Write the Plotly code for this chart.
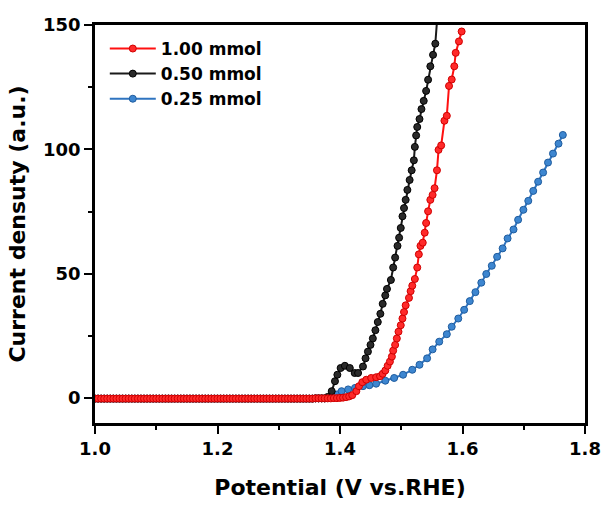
import plotly.graph_objects as go

# Flat (baseline) region shared by all curves
flat_x = [1.000, 1.005, 1.010, 1.015, 1.020, 1.025, 1.030, 1.035, 1.040, 1.045,
          1.050, 1.055, 1.060, 1.065, 1.070, 1.075, 1.080, 1.085, 1.090, 1.095,
          1.100, 1.105, 1.110, 1.115, 1.120, 1.125, 1.130, 1.135, 1.140, 1.145,
          1.150, 1.155, 1.160, 1.165, 1.170, 1.175, 1.180, 1.185, 1.190, 1.195,
          1.200, 1.205, 1.210, 1.215, 1.220, 1.225, 1.230, 1.235, 1.240, 1.245,
          1.250, 1.255, 1.260, 1.265, 1.270, 1.275, 1.280, 1.285, 1.290, 1.295,
          1.300, 1.305, 1.310, 1.315, 1.320, 1.325, 1.330, 1.335, 1.340, 1.345,
          1.350, 1.355, 1.360, 1.365, 1.370, 1.375]
flat_y = [-0.2, -0.2, -0.2, -0.2, -0.2, -0.2, -0.2, -0.2, -0.2, -0.2,
          -0.2, -0.2, -0.2, -0.2, -0.2, -0.2, -0.2, -0.2, -0.2, -0.2,
          -0.2, -0.2, -0.2, -0.2, -0.2, -0.2, -0.2, -0.2, -0.2, -0.2,
          -0.2, -0.2, -0.2, -0.2, -0.2, -0.2, -0.2, -0.2, -0.2, -0.2,
          -0.2, -0.2, -0.2, -0.2, -0.2, -0.2, -0.2, -0.2, -0.2, -0.2,
          -0.2, -0.2, -0.2, -0.2, -0.2, -0.2, -0.2, -0.2, -0.2, -0.2,
          -0.2, -0.2, -0.2, -0.2, -0.2, -0.2, -0.2, -0.2, -0.2, -0.2,
          -0.2, -0.2, -0.1, -0.1, -0.1, -0.1]

red_x_rise = [1.38, 1.385, 1.39, 1.395, 1.40, 1.405, 1.41, 1.415, 1.42, 1.4267,
              1.431, 1.4364, 1.4428, 1.4509, 1.459, 1.4654, 1.4697, 1.474, 1.4778, 1.4815,
              1.4847, 1.4868, 1.49, 1.4928, 1.4955, 1.4992, 1.502, 1.5045, 1.5072, 1.5126,
              1.5153, 1.518, 1.5222, 1.5261, 1.5287, 1.5314, 1.5351, 1.5383, 1.5406, 1.5438,
              1.5475, 1.5512, 1.5544, 1.5583, 1.5609, 1.5652, 1.5705, 1.5744, 1.578, 1.5824,
              1.5866, 1.5889, 1.5942, 1.5986]
red_y_rise = [-0.1, -0.1, 0.0, 0.0, 0.1, 0.2, 0.4, 0.7, 1.2, 2.8,
              4.8, 6.4, 7.4, 8.1, 8.4, 8.8, 9.8, 11.1, 13.0, 14.7,
              16.7, 19.1, 21.4, 24.0, 26.7, 29.3, 32.0, 34.6, 37.3, 40.3,
              43.0, 45.2, 47.9, 52.5, 57.8, 61.2, 62.5, 66.5, 70.4, 75.1,
              79.7, 81.7, 84.4, 91.6, 99.8, 101.6, 111.5, 113.5, 125.5, 128.1,
              133.4, 138.8, 143.4, 147.4]

black_x_rise = [1.38, 1.3865, 1.3918, 1.3957, 1.401, 1.408, 1.416, 1.424, 1.4295, 1.4375,
                1.4417, 1.4456, 1.4498, 1.4536, 1.4578, 1.4617, 1.4659, 1.4697, 1.4739, 1.4767,
                1.4831, 1.4868, 1.490, 1.4939, 1.4965, 1.4992, 1.502, 1.5045, 1.5072, 1.51,
                1.5137, 1.517, 1.5206, 1.5222, 1.5243, 1.5261, 1.5298, 1.533, 1.5367, 1.5406,
                1.5438, 1.5475, 1.5519, 1.5556, 1.5585]
black_y_rise = [0.5, 2.8, 6.8, 9.4, 12.1, 13.0, 12.1, 10.1, 10.1, 12.7,
                16.0, 18.7, 21.4, 24.0, 27.3, 30.6, 33.9, 37.9, 41.3, 43.9,
                47.5, 52.5, 56.5, 61.2, 64.5, 68.4, 73.1, 76.4, 79.7, 83.7,
                87.7, 91.6, 95.6, 101.0, 105.6, 109.0, 112.2, 116.2, 119.5, 123.5,
                128.0, 133.4, 138.0, 142.5, 152.0]

blue_x_rise = [1.38, 1.39, 1.3955, 1.4026, 1.4133, 1.4245, 1.4375, 1.448, 1.459, 1.474,
               1.4884, 1.503, 1.518, 1.5298, 1.5422, 1.5512, 1.562, 1.5744, 1.5824, 1.5931,
               1.6027, 1.6119, 1.6211, 1.6307, 1.6388, 1.6478, 1.6565, 1.6655, 1.6736, 1.6833,
               1.6908, 1.6994, 1.7074, 1.7155, 1.7235, 1.7316, 1.7396, 1.7477, 1.7568, 1.7638]
blue_y_rise = [0.0, 0.3, 1.5, 2.8, 3.5, 4.1, 4.8, 5.2, 5.8, 7.0,
               8.1, 9.4, 11.4, 13.4, 16.0, 19.6, 22.7, 25.7, 28.7, 32.0,
               35.5, 39.0, 42.6, 46.4, 49.9, 53.2, 56.8, 60.2, 64.2, 67.8,
               71.7, 75.7, 79.3, 83.3, 87.0, 90.7, 94.7, 98.3, 102.3, 105.8]

series_names = ["0.25 mmol", "0.50 mmol", "1.00 mmol"]
x_ticks = [1.0, 1.2, 1.4, 1.6, 1.8]
y_ticks = [0, 50, 100, 150]

FONT = "DejaVu Sans"

styles = {
    "0.25 mmol": dict(line="#2f74c0", fill="#3d86d0", edge="#1f5c9e"),
    "0.50 mmol": dict(line="#1a1a1a", fill="#2a2a2a", edge="#000000"),
    "1.00 mmol": dict(line="#ff1010", fill="#ff2a2a", edge="#d00000"),
}
data = {
    "0.25 mmol": (flat_x + blue_x_rise, flat_y + blue_y_rise),
    "0.50 mmol": (flat_x + black_x_rise, flat_y + black_y_rise),
    "1.00 mmol": (flat_x + red_x_rise, flat_y + red_y_rise),
}

fig = go.Figure()
for name in series_names:
    xs, ys = data[name]
    st = styles[name]
    fig.add_trace(go.Scatter(
        x=xs, y=ys, name=name, mode="lines+markers",
        line=dict(color=st["line"], width=2),
        marker=dict(symbol="circle", size=7, color=st["fill"],
                    line=dict(color=st["edge"], width=1)),
    ))

axis_common = dict(
    showline=True, linecolor="black", linewidth=2.5, mirror=True,
    ticks="outside", ticklen=8, tickwidth=2, tickcolor="black",
    showgrid=False, zeroline=False,
    tickfont=dict(family=FONT, size=18, color="black", weight="bold"),
)

fig.update_layout(
    width=613, height=509,
    margin=dict(l=95, r=21, t=25, b=82),
    paper_bgcolor="white", plot_bgcolor="white",
    showlegend=True,
    legend=dict(x=0.02, y=0.985, xanchor="left", yanchor="top",
                traceorder="reversed", bgcolor="rgba(0,0,0,0)",
                font=dict(family=FONT, size=17, color="black", weight="bold"),
                itemwidth=46, tracegroupgap=0),
    xaxis=dict(range=[1.0, 1.8], tickvals=x_ticks, tickformat=".1f",
               minor=dict(dtick=0.1, tick0=1.0, ticks="outside", ticklen=4,
                          tickwidth=2, tickcolor="black"),
               title=dict(text="Potential (V vs.RHE)", standoff=22,
                          font=dict(family=FONT, size=22, color="black", weight="bold")),
               **axis_common),
    yaxis=dict(range=[-10, 150], tickvals=y_ticks,
               minor=dict(dtick=25, tick0=0, ticks="outside", ticklen=4,
                          tickwidth=2, tickcolor="black"),
               title=dict(text="Current densuty (a.u.)", standoff=12,
                          font=dict(family=FONT, size=22, color="black", weight="bold")),
               **axis_common),
)

# remove the page's default body margin so the figure sits at the window origin
fig.write_html("out.html",
               config={"displayModeBar": False},
               post_script="document.body.style.margin='0px';")
